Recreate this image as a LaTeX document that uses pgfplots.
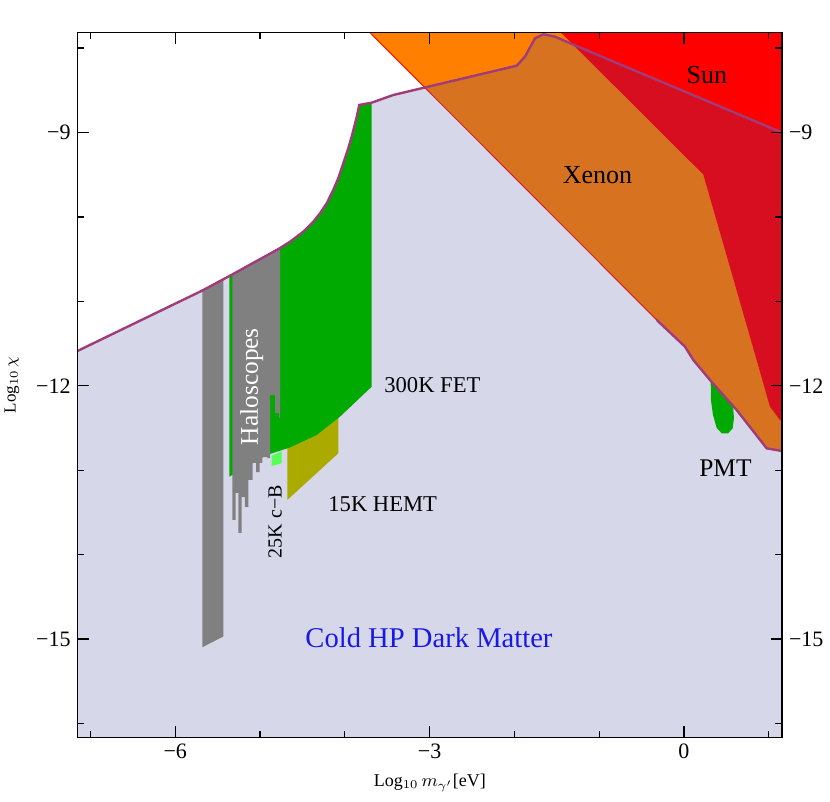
\documentclass[border=0pt]{standalone}
\usepackage{fontspec}
\setmainfont{Liberation Serif}
\usepackage{pgfplots}
\pgfplotsset{compat=1.18}
\definecolor{lavfill}{RGB}{67,67,154}
\definecolor{purp}{RGB}{160,60,122}
\definecolor{xeorange}{RGB}{255,128,0}
\definecolor{sunred}{RGB}{255,0,0}
\definecolor{grn}{RGB}{0,170,0}
\definecolor{lgrn}{RGB}{85,255,85}
\definecolor{olive2}{RGB}{170,170,0}
\definecolor{gry}{RGB}{128,128,128}
\definecolor{txtblue}{RGB}{25,25,230}
\begin{document}
\begin{tikzpicture}
\pgfplotsset{
  common/.style={
    at={(0,0)}, anchor=south west,
    scale only axis, width=352.15pt, height=352.3pt,
    xmin=-7.15, xmax=1.156, ymin=-16.164, ymax=-7.818,
    tick align=inside,
    ytick={-15,-12,-9}, yticklabels={−15,−12,−9},
    tick label style={font=\fontsize{11}{13}\selectfont},
  }
}
\begin{axis}[common,
  axis on top,
  no markers,
  axis line style={line width=0.7pt},
  xtick={-6,-3,0}, xticklabels={−6,−3,0},
  minor xtick={-7,-5,-4,-2,-1,1},
  minor ytick={-16,-14,-13,-11,-10,-8},
  major tick length=5.5pt, minor tick length=3.3pt,
  every tick/.style={black, line width=0.6pt},
  xlabel={Log$_{10}$$\,m_{\gamma'}$[eV]},
  ylabel={Log$_{10}\,\chi$},
  xlabel style={at={(axis description cs:0.5,-0.0649)}, anchor=center, font=\fontsize{9}{11}\selectfont},
  ylabel style={at={(axis description cs:-0.0933,0.5)}, anchor=center, font=\fontsize{8.5}{10}\selectfont},
]
% Xenon
\addplot[fill=xeorange, draw=none] coordinates {
(-3.820,-7.7) (-0.322,-11.221) (0.012,-11.537) (0.110,-11.695) (0.307,-11.932)
(0.621,-12.287) (0.975,-12.741) (1.132,-12.769) (1.2,-12.78) (1.2,-7.7)} -- cycle;
\addplot[red, line width=0.4pt] coordinates {(-3.820,-7.7) (-0.322,-11.221)};
% Sun
\addplot[fill=sunred, draw=none] coordinates {
(-1.568,-7.7) (0.228,-9.498) (0.857,-11.695) (1.014,-12.248) (1.132,-12.406)
(1.2,-12.44) (1.2,-7.7)} -- cycle;
% Cold HP dark matter region
\addplot[fill=lavfill, fill opacity=0.21, draw=none] coordinates {
(-7.2,-11.611) (-7.146,-11.585) (-5.684,-10.874) (-5.338,-10.688) (-4.768,-10.372)
(-4.646,-10.294) (-4.489,-10.175) (-4.371,-10.057) (-4.292,-9.957) (-4.213,-9.839)
(-4.136,-9.681) (-4.077,-9.543) (-4.018,-9.365) (-3.959,-9.187) (-3.919,-9.050)
(-3.868,-8.852) (-3.829,-8.674) (-3.683,-8.647) (-3.428,-8.556) (-1.973,-8.209)
(-1.875,-8.102) (-1.757,-7.884) (-1.659,-7.837) (-1.521,-7.865) (-1.344,-7.943)
(1.132,-8.991) (1.2,-9.020) (1.2,-16.3) (-7.2,-16.3)} -- cycle;
% 15K HEMT
\addplot[fill=olive2, draw=none] coordinates {
(-4.678,-12.70) (-4.331,-12.56) (-4.077,-12.35) (-4.077,-12.800) (-4.678,-13.353)} -- cycle;
% 25K c-B
\addplot[fill=lgrn, draw=none] coordinates {
(-4.862,-12.830) (-4.744,-12.775) (-4.744,-12.918) (-4.862,-12.950)} -- cycle;
% 300K FET
\addplot[fill=grn, draw=none] coordinates {
(-5.362,-10.701) (-5.338,-10.688) (-4.768,-10.372) (-4.646,-10.294) (-4.489,-10.175)
(-4.371,-10.057) (-4.292,-9.957) (-4.213,-9.839) (-4.136,-9.681) (-4.077,-9.543)
(-4.018,-9.365) (-3.959,-9.187) (-3.919,-9.050) (-3.868,-8.852) (-3.829,-8.674)
(-3.683,-8.647) (-3.683,-12.011) (-4.057,-12.367) (-4.331,-12.583) (-4.646,-12.731)
(-4.921,-12.820) (-5.362,-13.077)} -- cycle;
% Haloscopes
\addplot[fill=gry, draw=none] coordinates {
(-5.681,-10.872) (-5.433,-10.739) (-5.433,-14.970) (-5.681,-15.098)} -- cycle;
\addplot[fill=gry, draw=none] coordinates {
(-5.327,-10.684) (-4.768,-10.372) (-4.764,-10.370) (-4.764,-12.382) (-4.776,-12.382)
(-4.776,-12.323) (-4.823,-12.323) (-4.823,-12.109) (-4.882,-12.109) (-4.882,-12.856)
(-4.914,-12.856) (-4.914,-12.844) (-4.973,-12.844) (-4.973,-12.915) (-5.004,-12.915)
(-5.004,-13.022) (-5.047,-13.022) (-5.047,-12.915) (-5.086,-12.915) (-5.086,-13.116)
(-5.138,-13.116) (-5.138,-13.436) (-5.177,-13.436) (-5.177,-13.318) (-5.216,-13.318)
(-5.216,-13.744) (-5.256,-13.744) (-5.256,-13.270) (-5.287,-13.270) (-5.287,-13.590)
(-5.327,-13.590)} -- cycle;
% PMT
\addplot[fill=grn, draw=none] coordinates {
(0.315,-11.938) (0.318,-12.169) (0.342,-12.346) (0.386,-12.500) (0.445,-12.563)
(0.522,-12.563) (0.574,-12.504) (0.590,-12.382) (0.578,-12.238) (0.307,-11.932)} -- cycle;
% purple boundaries
\addplot[purp, line width=1.2pt] coordinates {
(-7.2,-11.611) (-7.146,-11.585) (-5.684,-10.874) (-5.338,-10.688) (-4.768,-10.372)
(-4.646,-10.294) (-4.489,-10.175) (-4.371,-10.057) (-4.292,-9.957) (-4.213,-9.839)
(-4.136,-9.681) (-4.077,-9.543) (-4.018,-9.365) (-3.959,-9.187) (-3.919,-9.050)
(-3.868,-8.852) (-3.829,-8.674) (-3.683,-8.647) (-3.428,-8.556) (-1.973,-8.209)
(-1.875,-8.102) (-1.757,-7.884) (-1.659,-7.837) (-1.521,-7.865) (-1.344,-7.943)
(1.132,-8.991) (1.2,-9.020)};
\addplot[purp, line width=1.2pt] coordinates {
(-0.322,-11.221) (0.012,-11.537) (0.110,-11.695) (0.307,-11.932) (0.621,-12.287)
(0.975,-12.741) (1.132,-12.769) (1.2,-12.78)};
% labels
\node[font=\fontsize{13}{15}\selectfont] at (axis cs:0.271,-8.319) {Sun};
\node[font=\fontsize{13}{15}\selectfont] at (axis cs:-1.020,-9.503) {Xenon};
\node[font=\fontsize{12.7}{15}\selectfont] at (axis cs:0.489,-12.978) {PMT};
\node[font=\fontsize{11.3}{13}\selectfont, anchor=west, inner sep=0pt] at (axis cs:-3.538,-11.991) {300K FET};
\node[font=\fontsize{11.3}{13}\selectfont, anchor=west, inner sep=0pt] at (axis cs:-4.198,-13.401) {15K HEMT};
\node[font=\fontsize{10}{12}\selectfont, rotate=90] at (axis cs:-4.823,-13.610) {25K c−B};
\node[font=\fontsize{12.7}{15}\selectfont, rotate=90, white] at (axis cs:-5.098,-12.011) {Haloscopes};
\node[font=\fontsize{14.3}{17}\selectfont, txtblue] at (axis cs:-3.007,-14.988) {Cold HP Dark Matter};
\end{axis}
\begin{axis}[common,
  axis line style={draw=none},
  xtick=\empty,
  yticklabel pos=right,
  every tick/.style={draw=none},
]
\end{axis}
\pgfresetboundingbox
\path[use as bounding box] (-38.85pt,-32.35pt) rectangle (376.15pt,368.65pt);
\end{tikzpicture}
\end{document}
